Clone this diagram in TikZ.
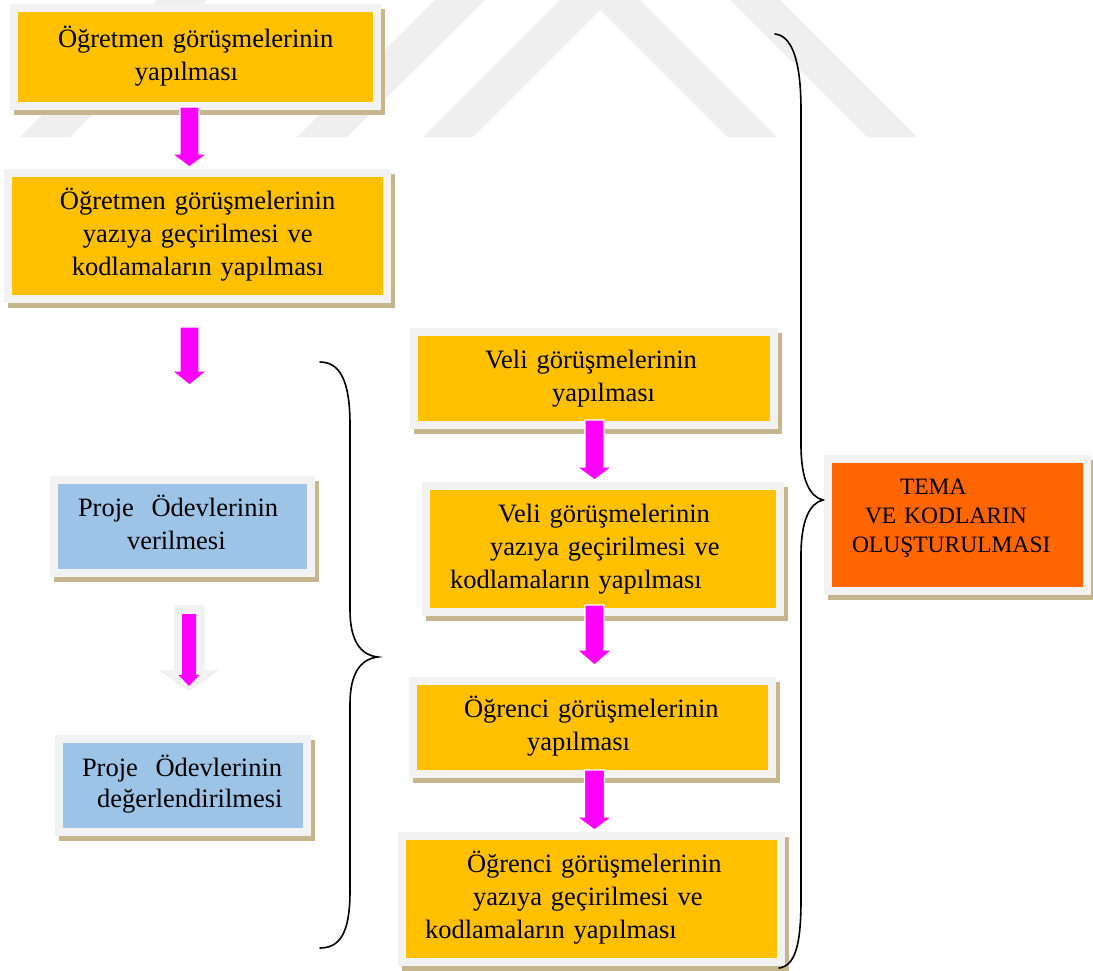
\documentclass[tikz,border=0pt]{standalone}
\usepackage{fontspec}
\setmainfont{Liberation Serif}
\usetikzlibrary{calc,shadows}
\definecolor{boxorange}{HTML}{FFC000}
\definecolor{boxblue}{HTML}{9DC3E6}
\definecolor{boxred}{HTML}{FF6600}
\definecolor{framegray}{HTML}{F2F2F2}
\definecolor{shadowtan}{HTML}{C6B68E}
\definecolor{arrowshadow}{HTML}{A3A893}
\definecolor{wmgray}{HTML}{EFEFEF}
\definecolor{arrowmag}{HTML}{FF00FF}
\tikzset{
  flowbox/.style={draw=framegray, line width=8pt, inner xsep=4pt, inner ysep=4pt,
    outer sep=0pt, align=left, anchor=north west, rectangle,
    font=\fontsize{26.5}{33}\selectfont,
    drop shadow={shadow xshift=4pt, shadow yshift=-5pt, fill=shadowtan,
      draw=shadowtan, line width=8pt, opacity=1}},
  orangebox/.style={flowbox, fill=boxorange},
  bluebox/.style={flowbox, fill=boxblue},
  redbox/.style={flowbox, fill=boxred, font=\fontsize{23.5}{29}\selectfont},
  magarrow/.style={fill=arrowmag, draw=white, line width=1.2pt},
  bracket/.style={draw=black, line width=1.6pt, line cap=round}
}
\newcommand{\arrowshape}[6]{%
  \path[#1] let \p1=#2, \p2=#3 in
    (\x1-#4,\y1) -- (\x1+#4,\y1) -- (\x1+#4,\y2+#6) -- (\x1+#5,\y2+#6) --
    (\x1,\y2) -- (\x1-#5,\y2+#6) -- (\x1-#4,\y2+#6) -- cycle;}
\begin{document}
\begin{tikzpicture}[x=1pt,y=-1pt]
\useasboundingbox (0,0) rectangle (1093,970);
% faint watermark
\fill[wmgray] (20,137) -- (70,137) -- (207,0) -- (157,0) -- cycle;
\fill[wmgray] (297,137) -- (347,137) -- (485,0) -- (435,0) -- cycle;
\fill[wmgray] (423,137) -- (473,137) -- (600,10) -- (727,137) -- (777,137) -- (640,0) -- (560,0) -- cycle;
\fill[wmgray] (730,0) -- (780,0) -- (917,137) -- (867,137) -- cycle;

% boxes
\node[orangebox, minimum width=363pt, minimum height=98pt, text width=355pt] (b1) at (14,8)
  {\hspace*{40pt}Öğretmen görüşmelerinin\strut\\\hspace*{117pt}yapılması\strut};
\node[orangebox, minimum width=379pt, minimum height=126pt, text width=371pt] (b2) at (8,173)
  {\hspace*{48pt}Öğretmen görüşmelerinin\strut\\\hspace*{71pt}yazıya geçirilmesi ve\strut\\\hspace*{60pt}kodlamaların yapılması\strut};
\node[bluebox, minimum width=257pt, minimum height=93pt, text width=249pt] (p1) at (54,480)
  {\hspace*{20pt}Proje~~Ödevlerinin\strut\\\hspace*{69pt}verilmesi\strut};
\node[bluebox, minimum width=248pt, minimum height=93pt, text width=240pt, font=\fontsize{26.5}{31}\selectfont] (p2) at (59,739)
  {\hspace*{19pt}Proje~~Ödevlerinin\strut\\\hspace*{34pt}değerlendirilmesi\strut};
\node[orangebox, minimum width=360pt, minimum height=93pt, text width=352pt] (v1) at (414,332)
  {\hspace*{67pt}Veli görüşmelerinin\strut\\\hspace*{134pt}yapılması\strut};
\node[orangebox, minimum width=354pt, minimum height=126pt, text width=346pt] (v2) at (426,486)
  {\hspace*{68pt}Veli görüşmelerinin\strut\\\hspace*{60pt}yazıya geçirilmesi ve\strut\\\hspace*{20pt}kodlamaların yapılması\strut};
\node[orangebox, minimum width=359pt, minimum height=93pt, text width=351pt] (o1) at (413,681)
  {\hspace*{47pt}Öğrenci görüşmelerinin\strut\\\hspace*{110pt}yapılması\strut};
\node[orangebox, minimum width=379pt, minimum height=126pt, text width=371pt] (o2) at (402,836)
  {\hspace*{61pt}Öğrenci görüşmelerinin\strut\\\hspace*{67pt}yazıya geçirilmesi ve\strut\\\hspace*{19pt}kodlamaların yapılması\strut};
\node[redbox, minimum width=259pt, minimum height=132pt, text width=251pt] (t) at (828,459)
  {\hspace*{68pt}TEMA\strut\\\hspace*{33pt}VE KODLARIN\strut\\\hspace*{20pt}OLUŞTURULMASI\rule[-22.7pt]{0pt}{22.7pt}};

% braces
\draw[bracket] (320,362) .. controls (344,362) and (350,390) .. (350,425) -- (350,610)
  .. controls (350,640) and (360,655) .. (378,657)
  .. controls (360,659) and (350,674) .. (350,704) -- (350,890)
  .. controls (350,925) and (344,948) .. (320,948);
\draw[bracket] (775,34) .. controls (795,36) and (801,70) .. (801,110) -- (801,445)
  .. controls (801,480) and (810,497) .. (823,500)
  .. controls (810,503) and (801,520) .. (801,555) -- (801,900)
  .. controls (801,945) and (795,966) .. (779,968);

% connector coordinates
\coordinate (a1s) at ([xshift=-6pt,yshift=-1pt]b1.south);
\coordinate (a1t) at ([yshift=6pt]b2.north);
\coordinate (a2s) at ([xshift=-8pt,yshift=-28pt]b2.south);
\coordinate (a2t) at ([yshift=-58pt]a2s);
\coordinate (a3s) at ([xshift=0.5pt,yshift=5pt]v1.south);
\coordinate (a3t) at ([yshift=6pt]v2.north);
\coordinate (a4s) at ([xshift=-8.5pt,yshift=7pt]v2.south);
\coordinate (a4t) at ([yshift=16pt]o1.north);
\coordinate (a5s) at ([xshift=2pt,yshift=4pt]o1.south);
\coordinate (a5t) at ([yshift=6pt]o2.north);
\coordinate (hs) at ([xshift=6.5pt,yshift=-32pt]p1.south);
\coordinate (ht) at ([yshift=49pt]p2.north);
\coordinate (hms) at ($(hs)+(0,9)$);
\coordinate (hmt) at ($(hs |- ht)+(0,-4)$);

% magenta block arrows
\arrowshape{magarrow}{(a1s)}{(a1s |- a1t)}{9.5pt}{17.5pt}{13pt}
\arrowshape{magarrow}{(a2s)}{(a2t)}{9.5pt}{17.5pt}{14pt}
\arrowshape{magarrow}{(a3s)}{(a3s |- a3t)}{9.5pt}{17.5pt}{13pt}
\arrowshape{magarrow}{(a4s)}{(a4s |- a4t)}{9.5pt}{17.5pt}{15pt}
\arrowshape{magarrow}{(a5s)}{(a5s |- a5t)}{10pt}{17.5pt}{13pt}

% hollow arrow between project boxes
\arrowshape{fill=arrowshadow, shift={(4pt,-5pt)}}{(hs)}{(hs |- ht)}{15pt}{29pt}{20pt}
\arrowshape{fill=framegray}{(hs)}{(hs |- ht)}{15pt}{29pt}{20pt}
\arrowshape{fill=arrowmag}{(hms)}{(hmt)}{7pt}{10.5pt}{11pt}
\end{tikzpicture}
\end{document}
